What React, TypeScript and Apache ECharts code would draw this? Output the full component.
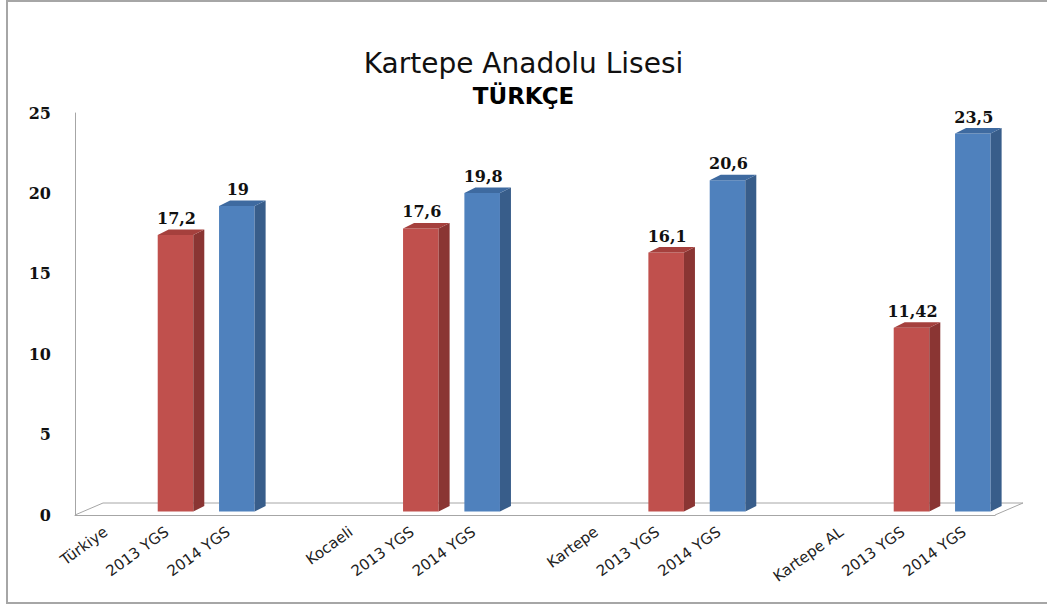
import React, { useEffect, useRef } from "react";
import * as echarts from "echarts";

const groups = ["Türkiye", "Kocaeli", "Kartepe", "Kartepe AL"];
const yearLabels = ["2013 YGS", "2014 YGS"];
const ygs2013 = [17.2, 17.6, 16.1, 11.42];
const ygs2014 = [19, 19.8, 20.6, 23.5];
const yMax = 25;
const yStep = 5;

const titleText = "Kartepe Anadolu Lisesi";
const subtitleText = "TÜRKÇE";

// categories: group label, 2013, 2014, blank spacer (none after the last group)
const categories: string[] = [];
groups.forEach((g, i) => {
  categories.push(g, yearLabels[0], yearLabels[1]);
  if (i < groups.length - 1) categories.push("");
});

const data2013 = groups.map((_, i) => [i * 4 + 1, ygs2013[i]]);
const data2014 = groups.map((_, i) => [i * 4 + 2, ygs2014[i]]);

const fmt = (v: number) => String(v).replace(".", ",");

function makeBar(front: string, side: string, top: string) {
  return (params: any, api: any) => {
    const idx = api.value(0);
    const val = api.value(1);
    const pTop = api.coord([idx, val]);
    const pBase = api.coord([idx, 0]);
    const w = api.size([1, 0])[0] * 0.58;
    const ox = 8.5, oy = -3.5, dx = 11, dy = -5.5;
    const x0 = pTop[0] - w / 2 + ox;
    const x1 = x0 + w;
    const yT = pTop[1] + oy;
    const yB = pBase[1] + oy;
    return {
      type: "group",
      children: [
        { type: "rect", shape: { x: x0, y: yT, width: w, height: yB - yT }, style: { fill: front } },
        {
          type: "polygon",
          shape: { points: [[x1, yT], [x1 + dx, yT + dy], [x1 + dx, yB + dy], [x1, yB]] },
          style: { fill: side },
        },
        {
          type: "polygon",
          shape: { points: [[x0, yT], [x0 + dx, yT + dy], [x1 + dx, yT + dy], [x1, yT]] },
          style: { fill: top },
        },
        {
          type: "text",
          style: {
            x: x0 + w / 2 + 1,
            y: yT + dy - 3,
            text: fmt(val),
            fill: "#111",
            font: "bold 16px 'DejaVu Serif'",
            align: "center",
            verticalAlign: "bottom",
          },
        },
      ],
    };
  };
}

export default function App() {
  const ref = useRef<HTMLDivElement>(null);
  useEffect(() => {
    if (!ref.current) return;
    const chart = echarts.init(ref.current, null, { renderer: "svg" });
    chart.setOption({
      animation: false,
      backgroundColor: "#fff",
      title: {
        text: titleText,
        subtext: subtitleText,
        left: "center",
        top: 44,
        itemGap: 7,
        textStyle: { fontFamily: "DejaVu Sans", fontSize: 28, fontWeight: "normal", color: "#111" },
        subtextStyle: { fontFamily: "DejaVu Sans", fontSize: 23, fontWeight: "bold", color: "#000" },
      },
      graphic: [
        {
          type: "rect",
          silent: true,
          shape: { x: 7, y: 1, width: 1045, height: 602 },
          style: { fill: "none", stroke: "#a6a6a6", lineWidth: 2 },
        },
      ],
      grid: { left: 75, right: 52, top: 113, bottom: 91 },
      xAxis: {
        type: "category",
        data: categories,
        axisLine: { show: true, lineStyle: { color: "#a6a6a6", width: 1 } },
        axisTick: { show: false },
        axisLabel: {
          interval: 0,
          rotate: 36,
          margin: 15,
          fontFamily: "DejaVu Sans",
          fontSize: 15,
          color: "#222",
        },
        splitLine: { show: false },
      },
      yAxis: {
        type: "value",
        min: 0,
        max: yMax,
        interval: yStep,
        axisLine: { show: true, lineStyle: { color: "#a6a6a6", width: 1 } },
        axisTick: { show: false },
        splitLine: { show: false },
        axisLabel: {
          margin: 24,
          fontFamily: "DejaVu Serif",
          fontWeight: "bold",
          fontSize: 16,
          color: "#111",
        },
      },
      series: [
        {
          type: "custom",
          name: "floor",
          silent: true,
          data: [[0]],
          renderItem: (params: any) => {
            const cs = params.coordSys;
            const fx0 = cs.x, fx1 = cs.x + cs.width, fy = cs.y + cs.height;
            const ddx = 28, ddy = -12;
            return {
              type: "polyline",
              shape: {
                points: [
                  [fx0, fy],
                  [fx0 + ddx, fy + ddy],
                  [fx1 + ddx, fy + ddy],
                  [fx1, fy],
                ],
              },
              style: { stroke: "#a6a6a6", lineWidth: 1, fill: "none" },
            };
          },
          z: 1,
        },
        {
          type: "custom",
          name: yearLabels[0],
          data: data2013,
          encode: { x: 0, y: 1 },
          renderItem: makeBar("#c0504d", "#8a3533", "#a5403d"),
          z: 3,
        },
        {
          type: "custom",
          name: yearLabels[1],
          data: data2014,
          encode: { x: 0, y: 1 },
          renderItem: makeBar("#4f81bd", "#385d8a", "#3e6aa0"),
          z: 3,
        },
      ],
    });
    return () => chart.dispose();
  }, []);
  return (
    <div
      ref={ref}
      style={{ position: "fixed", left: 0, top: 0, width: 1047, height: 606 }}
    />
  );
}
